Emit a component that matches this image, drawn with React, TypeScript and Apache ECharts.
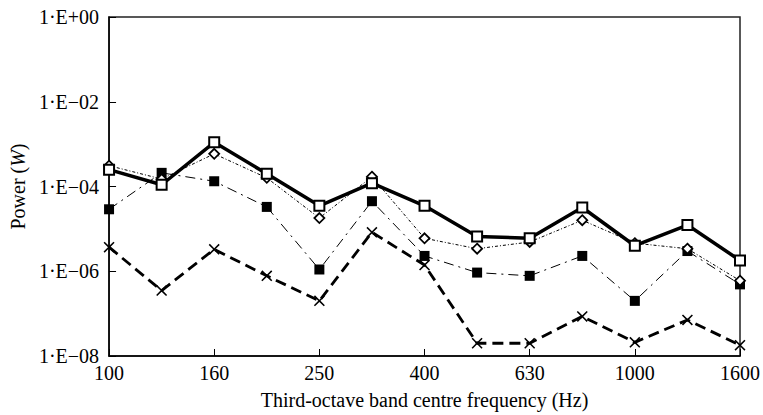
import React, { useEffect, useRef } from "react";
import * as echarts from "echarts";

const categories = ["100", "125", "160", "200", "250", "315", "400", "500", "630", "800", "1000", "1250", "1600"];
const totalPower = [2.5e-4, 1.1e-4, 1.1e-3, 2.0e-4, 3.5e-5, 1.2e-4, 3.5e-5, 6.6e-6, 6.0e-6, 3.2e-5, 4.0e-6, 1.23e-5, 1.8e-6];
const diamondPower = [3.1e-4, 1.5e-4, 5.9e-4, 1.6e-4, 1.8e-5, 1.7e-4, 6.0e-6, 3.4e-6, 4.9e-6, 1.6e-5, 4.6e-6, 3.4e-6, 6.0e-7];
const filledPower = [2.9e-5, 2.1e-4, 1.33e-4, 3.3e-5, 1.1e-6, 4.5e-5, 2.3e-6, 9.3e-7, 7.8e-7, 2.3e-6, 2.0e-7, 3.0e-6, 4.9e-7];
const crossPower = [3.7e-6, 3.5e-7, 3.3e-6, 7.8e-7, 2.0e-7, 8.3e-6, 1.4e-6, 2.0e-8, 2.0e-8, 8.6e-8, 2.1e-8, 7.1e-8, 1.8e-8];

const FONT = "Liberation Serif";
const CROSS = "path://M0,1 L1,0 L5,4 L9,0 L10,1 L6,5 L10,9 L9,10 L5,6 L1,10 L0,9 L4,5 Z";

export default function App() {
  const ref = useRef<HTMLDivElement>(null);
  useEffect(() => {
    if (!ref.current) return;
    const chart = echarts.init(ref.current, null, { renderer: "svg" });
    chart.setOption({
      animation: false,
      backgroundColor: "#fff",
      grid: { left: 103, right: 22, top: 17, bottom: 58, show: true, borderColor: "#222", borderWidth: 1.5, backgroundColor: "transparent" },
      xAxis: {
        type: "category",
        data: categories,
        boundaryGap: false,
        axisLine: { lineStyle: { color: "#000", width: 1.5 } },
        axisTick: { inside: true, length: 7, interval: 1, lineStyle: { color: "#000", width: 1 } },
        axisLabel: { interval: 1, color: "#000", fontFamily: FONT, fontSize: 20, margin: 7 },
        splitLine: { show: false },
        name: "Third-octave band centre frequency (Hz)",
        nameLocation: "middle",
        nameGap: 34,
        nameTextStyle: { color: "#000", fontFamily: FONT, fontSize: 20 },
      },
      yAxis: {
        type: "log",
        logBase: 10,
        min: 1e-8,
        max: 1,
        interval: 2,
        axisLine: { show: true, lineStyle: { color: "#000", width: 1.5 } },
        axisTick: { show: true, inside: true, length: 7, lineStyle: { color: "#000", width: 1 } },
        minorTick: { show: false },
        splitLine: { show: false },
        axisLabel: {
          color: "#000",
          fontFamily: FONT,
          fontSize: 20,
          margin: 10,
          formatter: (v: number) => {
            const e = Math.round(Math.log10(v));
            const s = String(Math.abs(e)).padStart(2, "0");
            return "1·E" + (e >= 0 ? "+" : "−") + s;
          },
        },
        name: "Power ({i|W})",
        nameLocation: "middle",
        nameGap: 76,
        nameTextStyle: {
          color: "#000",
          fontFamily: FONT,
          fontSize: 20,
          rich: { i: { fontStyle: "italic", fontFamily: FONT, fontSize: 20, color: "#000" } },
        },
      },
      series: [
        {
          name: "cross",
          type: "line",
          data: crossPower,
          symbol: CROSS,
          symbolSize: 11,
          itemStyle: { color: "#000" },
          lineStyle: { color: "#000", width: 2.8, type: [11, 6] },
        },
        {
          name: "filled",
          type: "line",
          data: filledPower,
          symbol: "rect",
          symbolSize: 10,
          itemStyle: { color: "#000" },
          lineStyle: { color: "#000", width: 1, type: [10, 5, 2, 5] },
        },
        {
          name: "diamond",
          type: "line",
          data: diamondPower,
          symbol: "diamond",
          symbolSize: 10,
          itemStyle: { color: "#fff", borderColor: "#000", borderWidth: 1.8 },
          lineStyle: { color: "#000", width: 1, type: [3, 2, 1, 2] },
        },
        {
          name: "total",
          type: "line",
          data: totalPower,
          symbol: "rect",
          symbolSize: 10,
          itemStyle: { color: "#fff", borderColor: "#000", borderWidth: 2 },
          lineStyle: { color: "#000", width: 3.5 },
        },
      ],
    });
    return () => chart.dispose();
  }, []);
  return <div ref={ref} style={{ position: "fixed", left: 0, top: 0, width: 763, height: 415 }} />;
}
